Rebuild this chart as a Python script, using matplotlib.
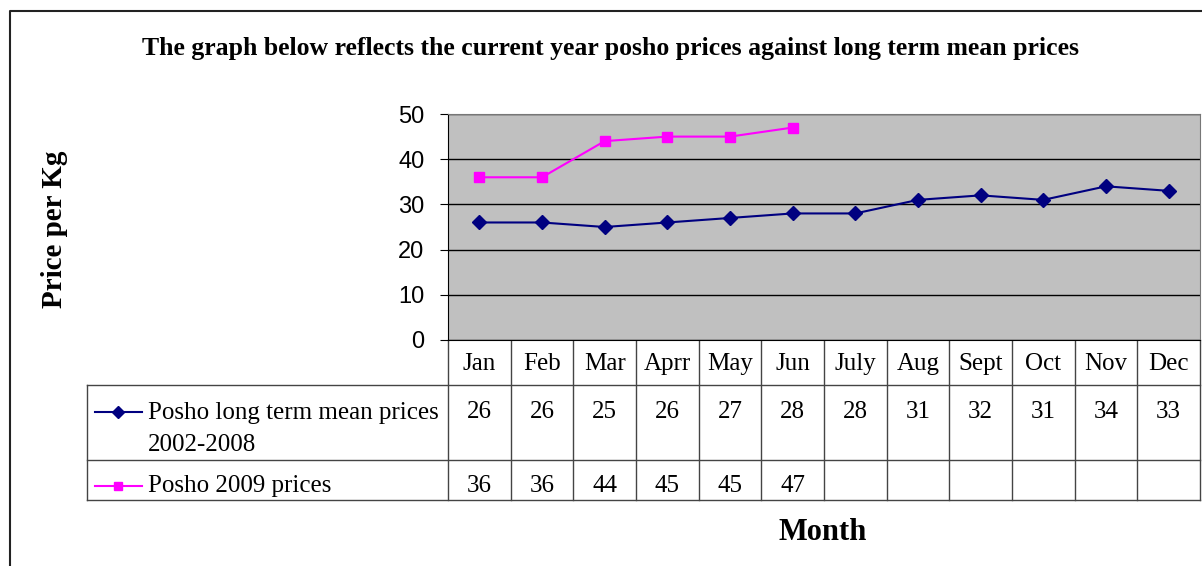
import numpy as np
import matplotlib.pyplot as plt
from matplotlib.lines import Line2D

months = ['Jan', 'Feb', 'Mar', 'Aprr', 'May', 'Jun', 'July', 'Aug', 'Sept', 'Oct', 'Nov', 'Dec']
mean_prices = [26, 26, 25, 26, 27, 28, 28, 31, 32, 31, 34, 33]
prices_2009 = [36, 36, 44, 45, 45, 47]
mean_label = ['Posho long term mean prices', '2002-2008']
label_2009 = 'Posho 2009 prices'

W, H = 1202, 566
fig = plt.figure(figsize=(W / 100, H / 100), dpi=100)

# pixel-space overlay for frame, titles and table
bg = fig.add_axes([0, 0, 1, 1])
bg.set_xlim(0, W)
bg.set_ylim(H, 0)
bg.axis('off')

serif = 'Liberation Serif'
sans = 'Liberation Sans'

# outer frame
bg.plot([10, 10, W], [H, 11, 11], color='#222222', lw=1.5)

bg.text(611, 48, 'The graph below reflects the current year posho prices against long term mean prices',
        ha='center', va='center', fontsize=18.5, fontweight='bold', family=serif)
bg.text(55, 229, 'Price per Kg', rotation=90, ha='center', va='center',
        fontsize=21, fontweight='bold', family=serif)
bg.text(823, 533, 'Month', ha='center', va='center', fontsize=22, fontweight='bold', family=serif)

# plot area
x0, x1, ytop, ybot = 448, 1200, 114, 340
ax = fig.add_axes([x0 / W, 1 - ybot / H, (x1 - x0) / W, (ybot - ytop) / H])
ax.set_facecolor('#C0C0C0')
x = np.arange(len(months))
ax.plot(x, mean_prices, color='#000080', marker='D', ms=7, lw=1.5)
ax.plot(x[:len(prices_2009)], prices_2009, color='#FF00FF', marker='s', ms=7, lw=1.5)
ax.set_xlim(-0.5, len(months) - 0.5)
ax.set_ylim(0, 50)
ax.set_yticks(range(0, 51, 10))
ax.yaxis.grid(True, color='black', lw=1)
ax.set_axisbelow(True)
ax.set_xticks([])
ax.tick_params(axis='y', direction='out', length=6, color='black', labelsize=17, pad=11)
for lab in ax.get_yticklabels():
    lab.set_family(sans)
ax.spines['top'].set_color('#777777')
ax.spines['right'].set_color('#777777')
ax.spines['left'].set_color('black')
ax.spines['bottom'].set_color('black')

# data table
col_w = (x1 - x0) / len(months)
r0, r1, r2, r3 = ybot, 385, 460, 500
tl = 87
lc = '#444444'
bg.plot([tl, x1], [r1, r1], color=lc, lw=1)
bg.plot([tl, x1], [r2, r2], color=lc, lw=1)
bg.plot([tl, x1], [r3, r3], color=lc, lw=1)
bg.plot([tl, tl], [r1, r3], color=lc, lw=1)
for i in range(len(months) + 1):
    xx = x0 + i * col_w
    bg.plot([xx, xx], [r0, r3], color=lc, lw=1)

fs = 18
for i, m in enumerate(months):
    cx = x0 + (i + 0.5) * col_w
    bg.text(cx, 364, m, ha='center', va='center', fontsize=fs, family=serif)
    bg.text(cx, 412, str(mean_prices[i]), ha='center', va='center', fontsize=fs, family=serif)
    if i < len(prices_2009):
        bg.text(cx, 486, str(prices_2009[i]), ha='center', va='center', fontsize=fs, family=serif)

# legend keys in table
bg.add_line(Line2D([95, 142], [412, 412], color='#000080', lw=1.5))
bg.plot([118], [412], marker='D', color='#000080', ms=6)
bg.text(148, 413, mean_label[0], ha='left', va='center', fontsize=fs, family=serif)
bg.text(148, 445, mean_label[1], ha='left', va='center', fontsize=fs, family=serif)
bg.add_line(Line2D([95, 142], [486, 486], color='#FF00FF', lw=1.5))
bg.plot([118], [486], marker='s', color='#FF00FF', ms=6)
bg.text(148, 486, label_2009, ha='left', va='center', fontsize=fs, family=serif)

fig.savefig('out.png', dpi=100)
